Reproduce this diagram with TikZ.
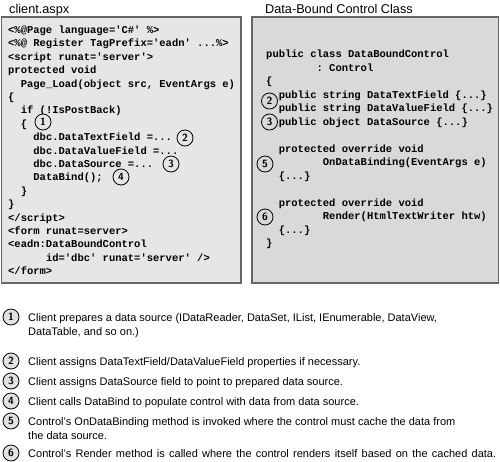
\documentclass[tikz,border=0pt]{standalone}
\usepackage{fontspec}
\setmainfont{Liberation Sans}
\setmonofont{Liberation Mono}
\definecolor{leftfill}{HTML}{E6E6E6}
\definecolor{rightfill}{HTML}{D9D9D9}
\definecolor{panelborder}{HTML}{666666}
\definecolor{numfill}{HTML}{E2E2E2}
\begin{document}
\begin{tikzpicture}[x=1pt,y=-1pt]
\tikzset{
  panel/.style={draw=panelborder, line width=1.8pt},
  code/.style={anchor=base west, inner sep=0pt, font=\ttfamily\bfseries\fontsize{10.5}{12}\selectfont},
  num/.style={circle, draw=black, line width=0.8pt, minimum size=16pt, inner sep=0pt,
    font=\sffamily\bfseries\fontsize{10.5}{10.5}\selectfont},
  title/.style={anchor=base west, inner sep=0pt, font=\fontsize{12.7}{14}\selectfont},
  legend/.style={anchor=base west, inner sep=0pt, align=left, font=\fontsize{11}{14}\selectfont}
}
\useasboundingbox (0,0) rectangle (500,461);
\fill[white] (0,0) rectangle (500,461);

% titles
\node[title] (t1) at (9,13) {client.aspx};
\node[title] (t2) at (265,13) {Data-Bound Control Class};

% panels
\draw[panel, fill=leftfill] (1.5,17) rectangle (241,283);
\draw[panel, fill=rightfill] (252,17) rectangle (498.5,283);

% left code
\node[code] (L1) at (8,33.5) {<\%@Page language='C\#' \%>};
\node[code] (L2) at (8,46.9) {<\%@ Register TagPrefix='eadn' ...\%>};
\node[code] (L3) at (8,60.3) {<script runat='server'>};
\node[code] (L4) at (8,73.7) {protected void};
\node[code] (L5) at (8,87.1) {\phantom{xx}Page\_Load(object src, EventArgs e)};
\node[code] (L6) at (8,100.5) {\{};
\node[code] (L7) at (8,113.9) {\phantom{xx}if (!IsPostBack)};
\node[code] (L8) at (8,127.3) {\phantom{xx}\{};
\node[code] (L9) at (8,140.7) {\phantom{xxxx}dbc.DataTextField =...};
\node[code] (L10) at (8,154.1) {\phantom{xxxx}dbc.DataValueField =...};
\node[code] (L11) at (8,167.5) {\phantom{xxxx}dbc.DataSource =...};
\node[code] (L12) at (8,180.9) {\phantom{xxxx}DataBind();};
\node[code] (L13) at (8,194.3) {\phantom{xx}\}};
\node[code] (L14) at (8,207.7) {\}};
\node[code] (L15) at (8,221.1) {</script>};
\node[code] (L16) at (8,234.5) {<form runat=server>};
\node[code] (L17) at (8,247.9) {<eadn:DataBoundControl};
\node[code] (L18) at (8,261.3) {\phantom{xxxxxx}id='dbc' runat='server' />};
\node[code] (L19) at (8,274.7) {</form>};

% right code
\node[code] (R1) at (266,57.5) {public class DataBoundControl};
\node[code] (R2) at (266,71) {\phantom{xxxxxxxx}: Control};
\node[code] (R3) at (266,84.5) {\{};
\node[code] (R4) at (266,98) {\phantom{xx}public string DataTextField \{...\}};
\node[code] (R5) at (266,111.5) {\phantom{xx}public string DataValueField \{...\}};
\node[code] (R6) at (266,125) {\phantom{xx}public object DataSource \{...\}};
\node[code] (R8) at (266,152) {\phantom{xx}protected override void};
\node[code] (R9) at (266,165.5) {\phantom{xxxxxxxxx}OnDataBinding(EventArgs e)};
\node[code] (R10) at (266,179) {\phantom{xx}\{...\}};
\node[code] (R12) at (266,206) {\phantom{xx}protected override void};
\node[code] (R13) at (266,219.5) {\phantom{xxxxxxxxx}Render(HtmlTextWriter htw)};
\node[code] (R14) at (266,233) {\phantom{xx}\{...\}};
\node[code] (R15) at (266,246.5) {\}};

% numbers in left panel
\node[num, fill=leftfill] (a1) at (43,122) {1};
\node[num, fill=leftfill] (a2) at (185,138) {2};
\node[num, fill=leftfill] (a3) at (171,164) {3};
\node[num, fill=leftfill] (a4) at (121,177) {4};

% numbers in right panel
\node[num, fill=rightfill] (b2) at (269.5,101) {2};
\node[num, fill=rightfill] (b3) at (269.5,122) {3};
\node[num, fill=rightfill] (b5) at (265,164) {5};
\node[num, fill=rightfill] (b6) at (265,217) {6};

% legend
\node[num, fill=numfill] (c1) at (11,317) {1};
\node[legend] (d1) at (28,335) {Client prepares a data source (IDataReader, DataSet, IList, IEnumerable, DataView,\\DataTable, and so on.)};
\node[num, fill=numfill] (c2) at (11,361) {2};
\node[legend] (d2) at (28,365) {Client assigns DataTextField/DataValueField properties if necessary.};
\node[num, fill=numfill] (c3) at (11,381) {3};
\node[legend] (d3) at (28,385) {Client assigns DataSource field to point to prepared data source.};
\node[num, fill=numfill] (c4) at (11,401) {4};
\node[legend] (d4) at (28,405) {Client calls DataBind to populate control with data from data source.};
\node[num, fill=numfill] (c5) at (11,421) {5};
\node[legend] (d5) at (28,439) {Control's OnDataBinding method is invoked where the control must cache the data from\\the data source.};
\node[num, fill=numfill] (c6) at (11,453) {6};
\node[legend] (d6) at (28,457) {\makebox[468pt][s]{Control's Render method is called where the control renders itself based on the cached data.}};
\end{tikzpicture}
\end{document}
